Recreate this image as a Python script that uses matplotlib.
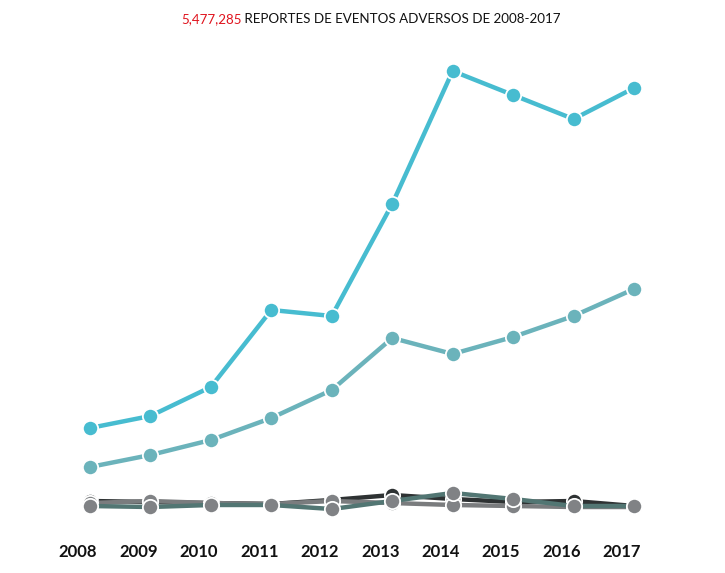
import matplotlib
matplotlib.use("Agg")
import matplotlib.pyplot as plt
import matplotlib.transforms as mtransforms

plt.rcParams['font.family'] = ['Lato', 'DejaVu Sans']

years = [2008, 2009, 2010, 2011, 2012, 2013, 2014, 2015, 2016, 2017]

# reportes por año (valores estimados del gráfico)
serie_a = [107700, 123100, 160300, 259000, 251300, 394900, 565400, 534600, 503800, 543600]
serie_b = [57700, 73100, 92300, 120500, 156400, 223100, 202600, 224400, 251300, 285900]
serie_negra = [14100, 12800, 11500, 10300, 15400, 21800, 16700, 12800, 14100, 7700]
serie_gris = [11500, 14100, 11500, 10300, 14100, 11500, 9000, 7700, 6400, 6400]
serie_verde = [7700, 6400, 9000, 9000, 3800, 14100, 24400, 16700, 7700, 7700]

total_txt = "5,477,285"
title_txt = " REPORTES DE EVENTOS ADVERSOS DE 2008-2017"

fig = plt.figure(figsize=(7.25, 5.73), dpi=100)
ax = fig.add_axes([90 / 725, 61 / 573, 544 / 725, 441 / 573])

def draw(vals, line_color, marker_color, z):
    ax.plot(years, vals, color=line_color, lw=3.2, marker='o', ms=11,
            mfc=marker_color, mec='white', mew=1.3, zorder=z, clip_on=False)

draw(serie_negra, '#2e3233', '#2e3233', 2)
draw(serie_gris, '#7a7c7e', '#808285', 3)
draw(serie_verde, '#527673', '#808285', 4)
draw(serie_b, '#6bb3bb', '#6bb3bb', 5)
draw(serie_a, '#47bcd0', '#47bcd0', 6)

ax.set_xlim(2008, 2017)
ax.set_ylim(0, 565400)
ax.set_xticks(years)
ax.set_xticklabels([str(y) for y in years], fontsize=12, fontweight='bold', color='#111111')
ax.tick_params(axis='x', length=0, pad=23)
ax.set_yticks([])
for s in ax.spines.values():
    s.set_visible(False)

# las etiquetas del eje van un poco corridas a la izquierda
shift = mtransforms.ScaledTranslation(-12 / 100, 0, fig.dpi_scale_trans)
for lab in ax.get_xticklabels():
    lab.set_transform(lab.get_transform() + shift)

# titulo en dos colores
t1 = fig.text(0, 0, total_txt, color='#e0141e', fontsize=9.6, ha='left', va='baseline')
t2 = fig.text(0, 0, title_txt, color='#111111', fontsize=9.6, ha='left', va='baseline')
fig.canvas.draw()
r = fig.canvas.get_renderer()
w1 = t1.get_window_extent(r).width
w2 = t2.get_window_extent(r).width
x0 = (371 - (w1 + w2) / 2) / 725
yb = 1 - 23 / 573
t1.set_position((x0, yb))
t2.set_position((x0 + w1 / 725, yb))

fig.savefig("out.png", dpi=100)
